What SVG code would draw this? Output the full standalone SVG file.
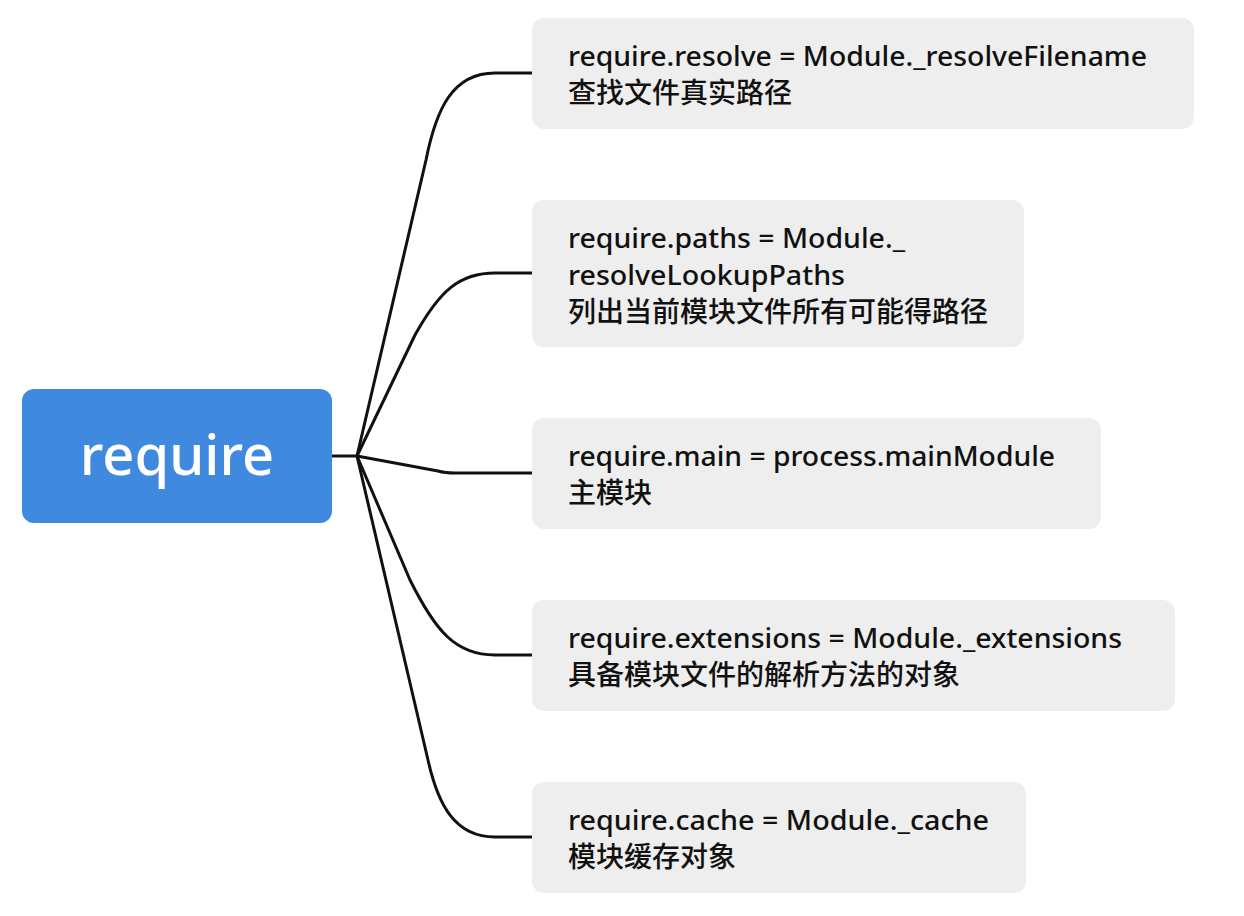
<svg xmlns="http://www.w3.org/2000/svg" width="1244" height="916" viewBox="0 0 1244 916">
<style>
.box{fill:#EEEEEE}
.t{font-family:"Noto Sans","Noto Sans CJK SC",sans-serif;font-size:27px;font-weight:500;fill:#111111}
.z{font-size:28px}
.c{fill:none;stroke:#111111;stroke-width:3;stroke-linejoin:round}
.root{fill:#3F8ADF}
.rt{font-family:"Noto Sans",sans-serif;font-size:56px;font-weight:500;fill:#FFFFFF;text-anchor:middle}
</style>
<rect width="1244" height="916" fill="#FFFFFF"/>
<g id="connectors">
<path class="c" d="M332,456 H357"/>
<path class="c" d="M357,456 L426,160 C436,110 452,73 495,73 H532"/>
<path class="c" d="M357,456 L415,335 C440,290 460,273 495,273 H532"/>
<path class="c" d="M357,456 L438,471 Q445,473 455,473 H532"/>
<path class="c" d="M357,456 L410,580 C435,630 455,655 495,655 H532"/>
<path class="c" d="M357,456 L428,760 C438,805 455,837 495,837 H532"/>
</g>
<g id="root">
<rect class="root" x="22" y="389" width="310" height="134" rx="12"/>
<text class="rt" x="177" y="475">require</text>
</g>
<g id="n1">
<rect class="box" x="532" y="18" width="662" height="111" rx="12"/>
<text class="t" x="568" y="66" textLength="579" lengthAdjust="spacingAndGlyphs">require.resolve = Module._resolveFilename</text>
<text class="t z" x="568" y="103">查找文件真实路径</text>
</g>
<g id="n2">
<rect class="box" x="532" y="200" width="492" height="147" rx="12"/>
<text class="t" x="568" y="248" textLength="337" lengthAdjust="spacingAndGlyphs">require.paths = Module._</text>
<text class="t" x="568" y="285" textLength="277" lengthAdjust="spacingAndGlyphs">resolveLookupPaths</text>
<text class="t z" x="568" y="322">列出当前模块文件所有可能得路径</text>
</g>
<g id="n3">
<rect class="box" x="532" y="418" width="569" height="111" rx="12"/>
<text class="t" x="568" y="466" textLength="487" lengthAdjust="spacingAndGlyphs">require.main = process.mainModule</text>
<text class="t z" x="568" y="503">主模块</text>
</g>
<g id="n4">
<rect class="box" x="532" y="600" width="643" height="111" rx="12"/>
<text class="t" x="568" y="648" textLength="554" lengthAdjust="spacingAndGlyphs">require.extensions = Module._extensions</text>
<text class="t z" x="568" y="685">具备模块文件的解析方法的对象</text>
</g>
<g id="n5">
<rect class="box" x="532" y="782" width="494" height="111" rx="12"/>
<text class="t" x="568" y="830" textLength="421" lengthAdjust="spacingAndGlyphs">require.cache = Module._cache</text>
<text class="t z" x="568" y="867">模块缓存对象</text>
</g>
</svg>
